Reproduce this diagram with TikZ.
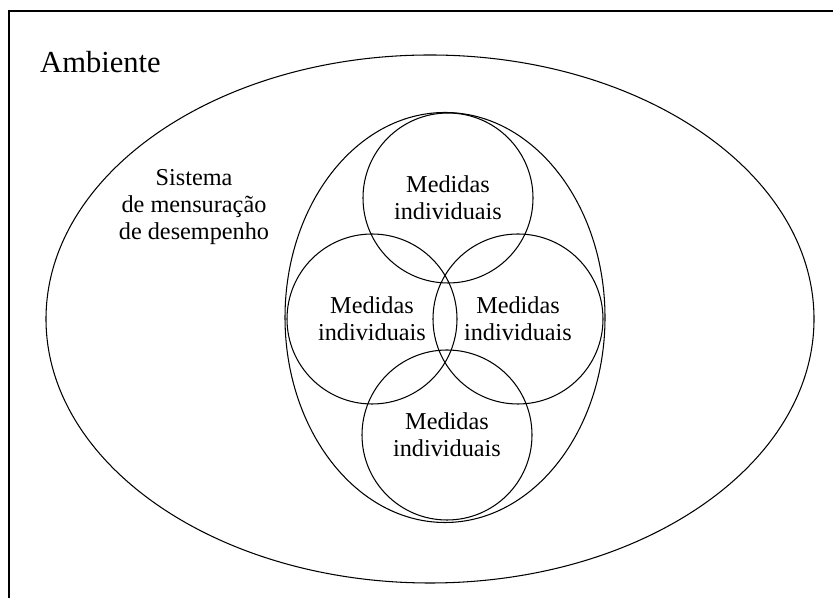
\documentclass[tikz,border=0pt]{standalone}
\usepackage{fontspec}
\setmainfont{Liberation Serif}
\usepackage{tikz}
\usetikzlibrary{shapes.geometric}
\usetikzlibrary{positioning}

\begin{document}
\begin{tikzpicture}[
    medida/.style={circle, draw, line width=0.6pt, minimum size=3.4cm, inner sep=0pt,
      align=center, font=\fontsize{13.8}{15.6}\selectfont},
    contorno/.style={ellipse, draw, line width=0.6pt, inner sep=0pt},
  ]
  \useasboundingbox (0,0) rectangle (16.66,11.96);
  \draw[line width=1pt] (0.18,0) -- (0.18,11.74) -- (16.66,11.74);
  \node[contorno, minimum width=15.36cm, minimum height=10.56cm] (ambiente) at (8.6,5.58) {};
  \node[contorno, minimum width=6.4cm, minimum height=8.2cm] (sistema) at (8.9,5.61) {};
  \node[medida] (topo) at (8.96,8.0) {Medidas\\individuais};
  \node[medida] (esquerda) at (7.44,5.58) {Medidas\\individuais};
  \node[medida] (direita) at (10.36,5.58) {Medidas\\individuais};
  \node[medida] (base) at (8.94,3.26) {Medidas\\individuais};
  \node[anchor=base west, font=\fontsize{17.4}{20}\selectfont] (rotulo) at (0.68,10.5) {Ambiente};
  \node[align=center, font=\fontsize{13.8}{15.3}\selectfont] (legenda) at (3.88,7.82)
    {Sistema\\de mensuração\\de desempenho};
\end{tikzpicture}
\end{document}
